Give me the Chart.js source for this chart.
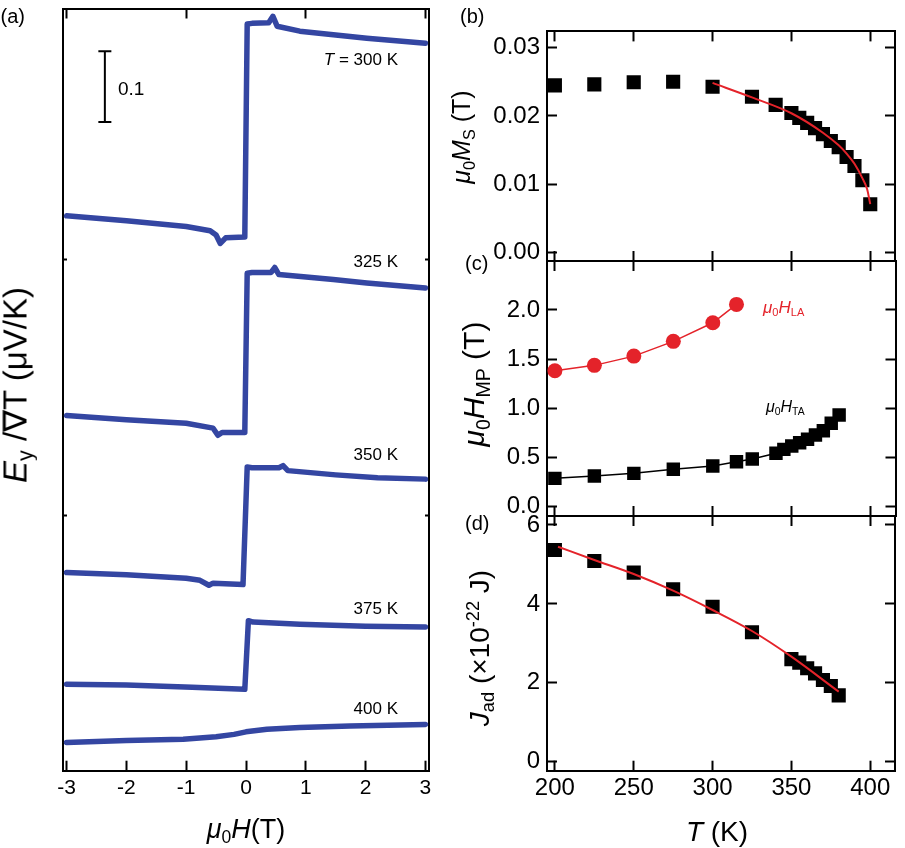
<!DOCTYPE html>
<html>
<head>
<meta charset="utf-8">
<script src="https://cdn.jsdelivr.net/npm/chart.js@4.4.0/dist/chart.umd.min.js"></script>
<style>
body { margin: 0; background: #fff; }
#fig { position: relative; width: 905px; height: 848px; font-family: 'Liberation Sans', Arial, sans-serif; color: #000; }
#fig canvas { position: absolute; left: 0; top: 0; }
.t { position: absolute; white-space: nowrap; line-height: 1; }
.rot { transform: translate(-50%, -50%) rotate(-90deg); }
.hc { transform: translateX(-50%); }
.sub { font-size: 0.65em; position: relative; top: 0.3em; font-style: normal; }
.sup { font-size: 0.65em; position: relative; top: -0.55em; }
</style>
</head>
<body>
<div id="fig">
  <canvas id="ca" width="905" height="848"></canvas>
  <canvas id="cb" width="905" height="848"></canvas>
  <canvas id="cc" width="905" height="848"></canvas>
  <canvas id="cd" width="905" height="848"></canvas>

  <div class="t" style="left:0.5px;top:6px;font-size:20px">(a)</div>
  <div class="t" style="left:460px;top:6px;font-size:20px">(b)</div>
  <div class="t" style="left:465px;top:253px;font-size:20px">(c)</div>
  <div class="t" style="left:465px;top:513px;font-size:20px">(d)</div>

  <div class="t rot" style="left:15px;top:385px;font-size:33px"><i>E</i><span class="sub">y</span> /∇T (μV/K)</div>
  <div class="t hc" style="left:246px;top:816px;font-size:27px"><i>μ</i><span class="sub">0</span><i>H</i>(T)</div>
  <div class="t rot" style="left:461px;top:137px;font-size:25px"><i>μ</i><span class="sub">0</span><i>M</i><span class="sub">S</span> (T)</div>
  <div class="t rot" style="left:474px;top:384px;font-size:30px"><i>μ</i><span class="sub">0</span><i>H</i><span class="sub">MP</span> (T)</div>
  <div class="t rot" style="left:480px;top:648px;font-size:28px"><i>J</i><span class="sub">ad</span> (×10<span class="sup">-22</span> J)</div>
  <div class="t hc" style="left:717px;top:818px;font-size:28px"><i>T</i> (K)</div>

  <div class="t" style="right:507px;top:51px;font-size:17px"><i>T</i> = 300 K</div>
  <div class="t" style="right:507px;top:253px;font-size:17px">325 K</div>
  <div class="t" style="right:507px;top:446px;font-size:17px">350 K</div>
  <div class="t" style="right:507px;top:600px;font-size:17px">375 K</div>
  <div class="t" style="right:507px;top:700px;font-size:17px">400 K</div>
  <div class="t" style="left:118px;top:79px;font-size:19px">0.1</div>

  <div class="t" style="left:763px;top:299px;font-size:17px;color:#e4232a"><i>μ</i><span class="sub">0</span><i>H</i><span class="sub">LA</span></div>
  <div class="t" style="left:766px;top:399px;font-size:16px"><i>μ</i><span class="sub">0</span><i>H</i><span class="sub">TA</span></div>
</div>
<script>
Chart.defaults.font.family = "'Liberation Sans', Arial, sans-serif";
Chart.defaults.color = '#000';

const W = 905, H = 848;
const blue = '#3446a2', red = '#e4232a';

// (a) Ey/gradT vs field, one curve per temperature, shifted by an offset
const fieldTicks = [-3, -2, -1, 0, 1, 2, 3];
const fieldTopTicks = [-3, -1, 1, 3];
const sideTicksA = [0.36, 0.722];
const offsets = [0.905, 0.59, 0.346, 0.163, 0.052];   // 300, 325, 350, 375, 400 K

const field300 = [-3, -2, -1, -0.6, -0.5, -0.43, -0.34, -0.02, 0.02, 0.1, 0.38, 0.45, 0.52, 0.9, 1.46, 2.02, 3];
const sig300 = [-0.121, -0.128, -0.136, -0.142, -0.148, -0.160, -0.152, -0.151, 0.150, 0.151, 0.152, 0.161, 0.147, 0.140, 0.135, 0.130, 0.123];
const field325 = [-3, -2, -1, -0.55, -0.47, -0.4, -0.02, 0.02, 0.1, 0.42, 0.48, 0.55, 1.46, 2.02, 3];
const sig325 = [-0.088, -0.094, -0.099, -0.106, -0.116, -0.112, -0.112, 0.113, 0.114, 0.114, 0.121, 0.111, 0.104, 0.099, 0.092];
const field350 = [-3, -2, -1, -0.77, -0.62, -0.55, -0.05, 0.02, 0.1, 0.55, 0.62, 0.7, 1.5, 2.2, 3];
const sig350 = [-0.066, -0.069, -0.074, -0.077, -0.084, -0.081, -0.083, 0.083, 0.082, 0.082, 0.085, 0.078, 0.072, 0.068, 0.066];
const field375 = [-3, -2, -0.9, -0.02, 0.04, 0.12, 0.9, 2, 3];
const sig375 = [-0.041, -0.042, -0.045, -0.048, 0.049, 0.047, 0.044, 0.041, 0.040];
const field400 = [-3, -2, -1.05, -0.5, -0.2, 0, 0.35, 0.9, 1.74, 3];
const sig400 = [-0.012, -0.0095, -0.0074, -0.0041, -0.0007, 0.0029, 0.0067, 0.0091, 0.011, 0.0134];

const scaleBarX = [-2.36, -2.36];
const scaleBarY = [0.9165, 1.0165];   // 0.1 uV/K

// (b)-(d) share the temperature axis
const tempTicks = [200, 250, 300, 350, 400];

const tempMs = [200, 225, 250, 275, 300, 325, 340, 350, 355, 360, 365, 370, 375, 380, 385, 390, 395, 400];
const ms = [0.02448, 0.02462, 0.02493, 0.02501, 0.02427, 0.02281, 0.02163, 0.02043, 0.01972, 0.01898, 0.01822, 0.01734, 0.01633, 0.01544, 0.01399, 0.01267, 0.01059, 0.00707];
const tempMsFit = [300, 325, 350, 370, 380, 385, 390, 395, 398, 400];
const msFit = [0.02484, 0.02272, 0.0204, 0.01755, 0.0157, 0.0145, 0.0130, 0.0109, 0.0093, 0.0071];
const msTicks = [0, 0.01, 0.02, 0.03];

const tempLA = [200, 225, 250, 275, 300, 315];
const hLA = [1.382, 1.437, 1.531, 1.681, 1.870, 2.057];
const tempTA = [200, 225, 250, 275, 300, 315, 325, 340, 345, 350, 355, 360, 365, 370, 375, 380];
const hTA = [0.288, 0.312, 0.339, 0.380, 0.414, 0.457, 0.485, 0.543, 0.583, 0.617, 0.650, 0.685, 0.729, 0.772, 0.848, 0.932];
const hTicks = [0, 0.5, 1, 1.5, 2];

const tempJ = [200, 225, 250, 275, 300, 325, 350, 355, 360, 365, 370, 375, 380];
const jad = [5.366, 5.087, 4.791, 4.370, 3.929, 3.280, 2.60, 2.51, 2.37, 2.24, 2.07, 1.92, 1.68];
const tempJFit = [202, 225, 250, 275, 300, 325, 350, 380];
const jadFit = [5.45, 5.113, 4.758, 4.335, 3.845, 3.313, 2.662, 1.775];
const jTicks = [0, 2, 4, 6];

function pts(xs, ys, off) {
    return xs.map((x, i) => ({x: x, y: ys[i] + (off || 0)}));
}

// one side of a framed box: inward ticks, no grid, optional labels
function frameAxis(pos, min, max, tickValues, size, labels, tickLen) {
    return {
        type: 'linear', position: pos, min: min, max: max,
        grid: {drawOnChartArea: false, drawTicks: true, tickLength: -(tickLen || 10), tickWidth: 2, tickColor: '#000'},
        border: {display: true, color: '#000', width: 2},
        ticks: labels || {display: false},
        afterBuildTicks: s => { s.ticks = tickValues.map(v => ({value: v})); },
        afterFit: s => { if (s.isHorizontal()) s.height = size; else s.width = size; }
    };
}

const baseOptions = {
    responsive: false,
    animation: false,
    events: [],
    layout: {padding: 0},
    plugins: {legend: {display: false}, tooltip: {enabled: false}}
};

// ---------- (a) ----------
const aFields = [field300, field325, field350, field375, field400];
const aSigs = [sig300, sig325, sig350, sig375, sig400];
const aSets = aFields.map((f, i) => ({
    data: pts(f, aSigs[i], offsets[i]),
    showLine: true, borderColor: blue, borderWidth: 5.5, pointRadius: 0,
    borderJoinStyle: 'round', borderCapStyle: 'round'
}));
aSets.push({
    data: pts(scaleBarX, scaleBarY),
    showLine: true, borderColor: '#000', borderWidth: 2,
    pointStyle: 'line', pointRadius: 6.5, pointBorderWidth: 2, pointBorderColor: '#000'
});

new Chart(document.getElementById('ca'), {
    type: 'scatter',
    data: {datasets: aSets},
    options: Object.assign({}, baseOptions, {
        scales: {
            x: frameAxis('bottom', -3.06, 3.06, fieldTicks, H - 770.7,
                {display: true, padding: 15, font: {size: 21}, color: '#000', callback: v => String(v)}),
            x2: frameAxis('top', -3.06, 3.06, fieldTopTicks, 6),
            y: frameAxis('left', 0, 1.077, sideTicksA, 63, null, 4),
            y2: frameAxis('right', 0, 1.077, sideTicksA, W - 429, null, 4)
        }
    })
});

// ---------- right column ----------
const tMin = 195, tMax = 415.7;
const yLabels = fmt => ({display: true, padding: 17, font: {size: 24}, color: '#000', callback: fmt});

// (b)
new Chart(document.getElementById('cb'), {
    type: 'scatter',
    data: {datasets: [
        {data: pts(tempMsFit, msFit), showLine: true, borderColor: red, borderWidth: 2, pointRadius: 0,
         cubicInterpolationMode: 'monotone', order: 0},
        {data: pts(tempMs, ms), pointStyle: 'rect', pointRadius: 10, backgroundColor: '#000',
         pointBackgroundColor: '#000', pointBorderWidth: 0, order: 1}
    ]},
    options: Object.assign({}, baseOptions, {
        scales: {
            x: frameAxis('bottom', tMin, tMax, tempTicks, H - 261),
            x2: frameAxis('top', tMin, tMax, tempTicks, 7),
            y: frameAxis('left', -0.00123, 0.03238, msTicks, 547, yLabels(v => v.toFixed(2))),
            y2: frameAxis('right', -0.00123, 0.03238, msTicks, W - 903)
        }
    })
});

// (c)
new Chart(document.getElementById('cc'), {
    type: 'scatter',
    data: {datasets: [
        {data: pts(tempLA, hLA), showLine: true, borderColor: red, borderWidth: 1.5,
         pointStyle: 'circle', pointRadius: 7.5, backgroundColor: red, pointBackgroundColor: red, pointBorderWidth: 0},
        {data: pts(tempTA, hTA), showLine: true, borderColor: '#000', borderWidth: 1.5,
         pointStyle: 'rect', pointRadius: 9.5, backgroundColor: '#000', pointBackgroundColor: '#000', pointBorderWidth: 0}
    ]},
    options: Object.assign({}, baseOptions, {
        scales: {
            x: frameAxis('bottom', tMin, tMax, tempTicks, H - 516),
            x2: frameAxis('top', tMin, tMax, tempTicks, 261),
            y: frameAxis('left', -0.0946, 2.498, hTicks, 547, yLabels(v => v.toFixed(1))),
            y2: frameAxis('right', -0.0946, 2.498, hTicks, W - 903)
        }
    })
});

// (d)
new Chart(document.getElementById('cd'), {
    type: 'scatter',
    data: {datasets: [
        {data: pts(tempJFit, jadFit), showLine: true, borderColor: red, borderWidth: 2, pointRadius: 0,
         cubicInterpolationMode: 'monotone', order: 0},
        {data: pts(tempJ, jad), pointStyle: 'rect', pointRadius: 10, backgroundColor: '#000',
         pointBackgroundColor: '#000', pointBorderWidth: 0, order: 1}
    ]},
    options: Object.assign({}, baseOptions, {
        scales: {
            x: frameAxis('bottom', tMin, tMax, tempTicks, H - 770.7,
                {display: true, padding: 13.6, font: {size: 24}, color: '#000', callback: v => String(v)}),
            x2: frameAxis('top', tMin, tMax, tempTicks, 516),
            y: frameAxis('left', -0.228, 6.228, jTicks, 547, yLabels(v => String(v))),
            y2: frameAxis('right', -0.228, 6.228, jTicks, W - 903)
        }
    })
});
</script>
</body>
</html>
